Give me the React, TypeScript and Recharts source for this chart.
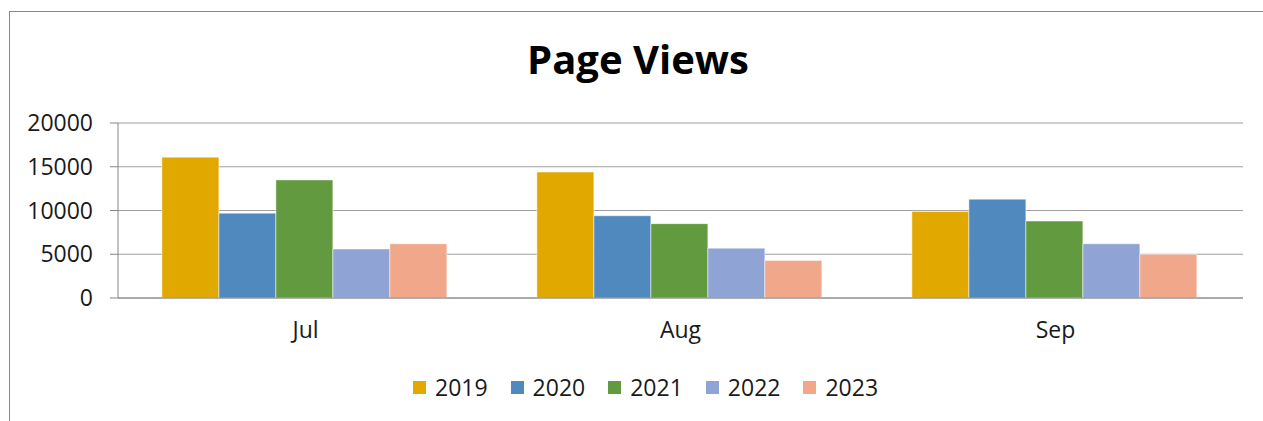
import { Bar, BarChart, CartesianGrid, Legend, XAxis, YAxis } from "recharts";

const months = ["Jul", "Aug", "Sep"];
const years = ["2019", "2020", "2021", "2022", "2023"];
const views2019 = [16100, 14400, 9900];
const views2020 = [9700, 9400, 11300];
const views2021 = [13500, 8500, 8800];
const views2022 = [5600, 5700, 6200];
const views2023 = [6200, 4300, 5000];
const yTicks = [0, 5000, 10000, 15000, 20000];
const edgeTicks = [0, 1, 2, 3];

const COLORS = ["#e1a900", "#4f89bd", "#629a3f", "#8fa3d4", "#f0a78a"];
const FONT = "'Open Sans', sans-serif";
const AXIS = "#868686";

const series = [views2019, views2020, views2021, views2022, views2023];
const data = months.map((month, i) => {
  const row: Record<string, string | number> = { month };
  years.forEach((y, s) => {
    row[y] = series[s][i];
  });
  return row;
});

const EmptyTick = () => <g />;

function LegendContent() {
  return (
    <div style={{ display: "flex", alignItems: "center", height: 26, fontFamily: FONT, fontSize: 23, color: "#1a1a1a" }}>
      {years.map((y, i) => (
        <div key={y} style={{ display: "flex", alignItems: "center", marginRight: 23 }}>
          <span style={{ display: "inline-block", width: 13, height: 13, background: COLORS[i], marginRight: 9 }} />
          <span style={{ lineHeight: "26px" }}>{y}</span>
        </div>
      ))}
    </div>
  );
}

export default function App() {
  return (
    <>
      <style>{"html, body { overflow: hidden; } ::-webkit-scrollbar { display: none; width: 0; }"}</style>
      <div
        style={{
          position: "absolute",
          left: 9,
          top: 11,
          width: 1253,
          height: 409,
          borderTop: "1px solid #898989",
          borderLeft: "1px solid #898989",
          fontFamily: FONT,
          background: "#fff",
          overflow: "hidden",
        }}
      >
        <div
          style={{
            position: "absolute",
            left: 3,
            top: 20,
            width: 1250,
            textAlign: "center",
            fontSize: 40,
            fontWeight: 700,
            lineHeight: "54px",
            color: "#000",
          }}
        >
          Page Views
        </div>
        <div style={{ position: "absolute", left: 0, top: 0 }}>
          <BarChart
            width={1250}
            height={409}
            data={data}
            margin={{ top: 111, right: 17, bottom: 21, left: 0 }}
            barCategoryGap="11.7%"
            barGap={0}
          >
            <CartesianGrid vertical={false} stroke="#a0a0a0" strokeWidth={1} />
            <XAxis
              xAxisId="edges"
              type="number"
              domain={[0, 3]}
              ticks={edgeTicks}
              allowDataOverflow
              height={0}
              axisLine={false}
              tickLine={{ stroke: AXIS }}
              tickSize={8}
              tick={<EmptyTick />}
            />
            <XAxis
              xAxisId="cat"
              dataKey="month"
              height={76}
              axisLine={{ stroke: AXIS }}
              tickLine={false}
              tickSize={0}
              tickMargin={24}
              tick={{ fill: "#1a1a1a", fontSize: 23, fontFamily: FONT }}
            />
            <YAxis
              width={108}
              domain={[0, 20000]}
              ticks={yTicks}
              axisLine={{ stroke: AXIS }}
              tickLine={{ stroke: AXIS }}
              tickSize={8}
              tickMargin={17}
              tick={{ fill: "#1a1a1a", fontSize: 23, fontFamily: FONT }}
            />
            <Legend
              verticalAlign="bottom"
              align="left"
              height={26}
              wrapperStyle={{ left: 403 }}
              content={<LegendContent />}
            />
            {years.map((y, i) => (
              <Bar
                key={y}
                xAxisId="cat"
                dataKey={y}
                fill={COLORS[i]}
                stroke="#ffffff"
                strokeOpacity={0.5}
                strokeWidth={1}
                isAnimationActive={false}
              />
            ))}
          </BarChart>
        </div>
      </div>
    </>
  );
}
